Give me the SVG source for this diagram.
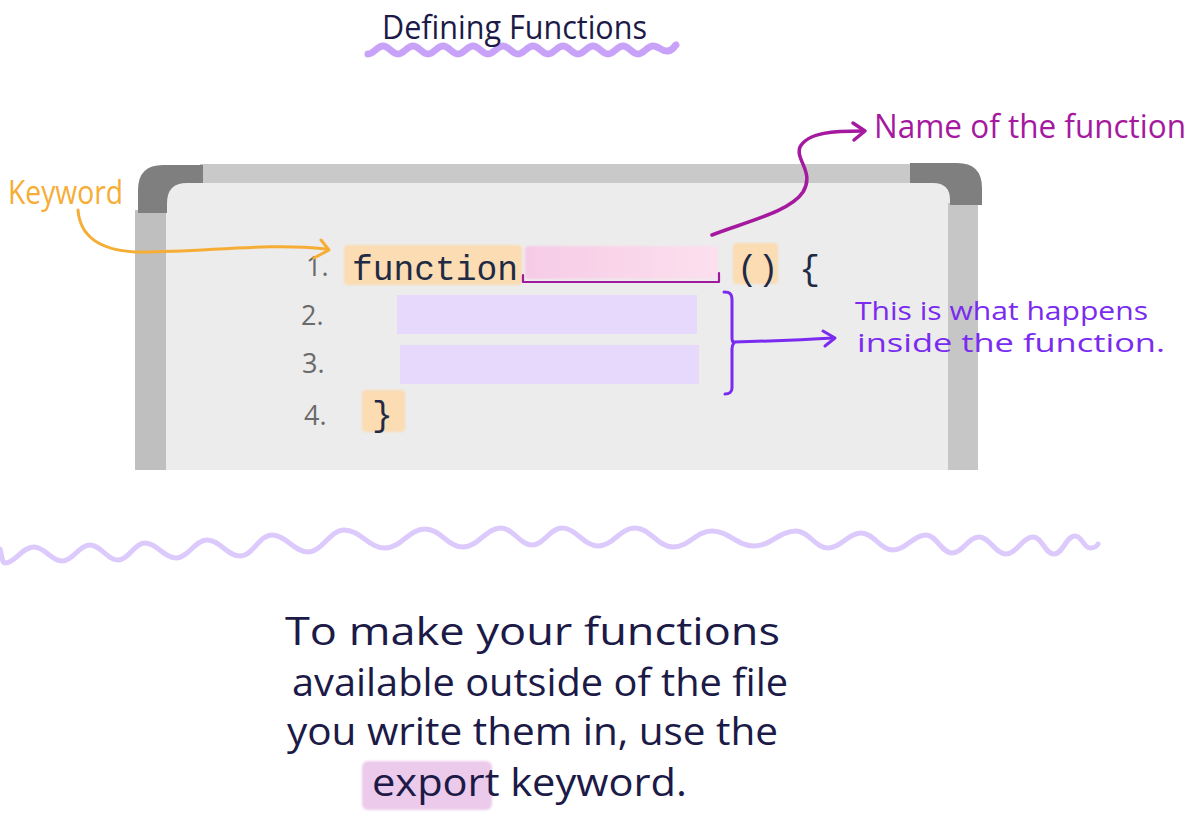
<svg xmlns="http://www.w3.org/2000/svg" width="1200" height="822" viewBox="0 0 1200 822">
  <defs>
    <style>
      .hand { font-family: "Open Sans", "Liberation Sans", sans-serif; }
      .code { font-family: "Liberation Mono", "DejaVu Sans Mono", monospace; font-size: 34.6px; fill: #1f2b45; }
      .num { font-family: "Open Sans", "Liberation Sans", sans-serif; font-size: 27px; fill: #6a6a6a; }
      .navy { fill: #1c1a47; }
      .hl-orange { fill: #fbdcb3; }
      .hl-purple { fill: #e6d9fc; }
      .conn { fill: none; stroke-linecap: round; stroke-linejoin: round; }
    </style>
    <filter id="soft" x="-5%" y="-10%" width="110%" height="120%">
      <feGaussianBlur stdDeviation="1.2"/>
    </filter>
    <linearGradient id="pinkGrad" x1="0" y1="0" x2="1" y2="0">
      <stop offset="0" stop-color="#f7cbe6"/>
      <stop offset="1" stop-color="#fbe0ee"/>
    </linearGradient>
  </defs>

  <rect x="0" y="0" width="1200" height="822" fill="#ffffff"/>

  <!-- Title -->
  <g id="title">
    <path class="conn" stroke="#c8a2f8" stroke-width="7" d="M368,54 C374,54 377,46 383,46 S392,54 398,54 S407,46 413,46 S422,54 428,54 S437,46 443,46 S452,54 458,54 S467,46 473,46 S482,54 488,54 S497,46 503,46 S512,54 518,54 S527,46 533,46 S542,54 548,54 S557,46 563,46 S572,54 578,54 S587,46 593,46 S602,54 608,54 S617,46 623,46 S632,54 638,54 S647,46 653,46 S662,52 668,51 S674,46 676,45"/>
    <text class="hand navy" x="382" y="39" font-size="32" textLength="265" lengthAdjust="spacingAndGlyphs">Defining Functions</text>
  </g>

  <!-- Whiteboard -->
  <g id="whiteboard">
    <rect x="150" y="172" width="815" height="298" fill="#ececec"/>
    <rect x="200" y="164" width="712" height="19" fill="#c9c9c9"/>
    <rect x="135" y="210" width="31" height="260" fill="#bfbfbf"/>
    <rect x="948" y="203" width="30" height="267" fill="#c6c6c6"/>
    <path d="M138,213 L138,190 Q138,165 163,165 L203,165 L203,183 L187,183 Q167,183 167,203 L167,213 Z" fill="#7f7f7f"/>
    <path d="M910,163 L957,163 Q982,163 982,188 L982,205 L950,205 L950,200 Q950,183 933,183 L910,183 Z" fill="#7f7f7f"/>
  </g>

  <!-- Code lines -->
  <g id="line-1">
    <rect class="hl-orange" x="344" y="245" width="178" height="40" rx="4" filter="url(#soft)"/>
    <rect x="525" y="246" width="193" height="33" rx="4" fill="url(#pinkGrad)" filter="url(#soft)"/>
    <rect class="hl-orange" x="733" y="243" width="45" height="41" rx="4" filter="url(#soft)"/>
    <text class="num" x="306" y="276">1.</text>
    <text class="code" x="352" y="280">function</text>
    <text class="code" x="737" y="280">() {</text>
    <path class="conn" stroke="#a0199c" stroke-width="2.2" d="M523,275 L523,282 L719,282 L719,273"/>
  </g>
  <g id="line-2">
    <text class="num" x="301" y="325">2.</text>
    <rect class="hl-purple" x="397" y="295" width="300" height="39"/>
  </g>
  <g id="line-3">
    <text class="num" x="302" y="373">3.</text>
    <rect class="hl-purple" x="400" y="345" width="299" height="39"/>
  </g>
  <g id="line-4">
    <rect class="hl-orange" x="362" y="390" width="43" height="42" rx="4" filter="url(#soft)"/>
    <text class="num" x="304" y="425">4.</text>
    <text class="code" x="372" y="426">}</text>
  </g>

  <!-- Labels -->
  <g id="keyword-label">
    <text class="hand" x="8" y="204" font-size="32" fill="#f6ad35" textLength="115" lengthAdjust="spacingAndGlyphs">Keyword</text>
  </g>
  <g id="name-label">
    <text class="hand" x="874" y="138" font-size="33" fill="#a5199f" textLength="312" lengthAdjust="spacingAndGlyphs">Name of the function</text>
  </g>
  <g id="body-label">
    <text class="hand" x="855" y="320" font-size="25" fill="#7a2bef" textLength="293" lengthAdjust="spacingAndGlyphs">This is what happens</text>
    <text class="hand" x="857" y="352" font-size="25" fill="#7a2bef" textLength="308" lengthAdjust="spacingAndGlyphs">inside the function.</text>
  </g>

  <!-- Connectors -->
  <g id="connectors">
    <path class="conn" stroke="#f6ad35" stroke-width="3" d="M78,210 C80,236 100,250 135,252 C200,253 265,242 326,249"/>
    <path class="conn" stroke="#f6ad35" stroke-width="3" d="M321,240 L329,250 L314,258"/>
    <path class="conn" stroke="#a5199f" stroke-width="3.5" d="M712,235 C745,222 790,212 803,192 C815,172 795,160 800,147 C808,132 835,131 863,131"/>
    <path class="conn" stroke="#a5199f" stroke-width="3.5" d="M853,123 L865,131 L854,140"/>
    <path class="conn" stroke="#7a2bef" stroke-width="3" d="M724,292 C730,292 732,294 732,300 L732,338 Q732,342 734,343 Q732,345 732,349 L732,388 C732,392 729,394 725,394"/>
    <path class="conn" stroke="#7a2bef" stroke-width="3" d="M734,342 C770,341 800,340 834,338"/>
    <path class="conn" stroke="#7a2bef" stroke-width="3" d="M823,331 L835,338 L825,346"/>
  </g>

  <!-- Divider wave -->
  <g id="divider">
    <path class="conn" stroke="#dccafc" stroke-width="5" d="M0,549 C2,556 2,563 5,563 C15,563 22,547 34,547 C45,547 51,561 62,561 C73,561 79,545 90,545 C101,545 107,560 118,560 C129,560 134,543 145,543 C157,543 164,558 176,558 C188,558 195,540 207,540 C220,540 227,556 240,556 C253,556 259,535 272,535 C286,535 294,552 308,552 C322,552 330,530 344,530 C360,530 369,548 385,548 C401,548 409,529 425,529 C440,529 448,547 463,547 C478,547 486,528 501,528 C513,528 520,545 532,545 C544,545 550,528 562,528 C576,528 584,546 598,546 C613,546 620,528 635,528 C650,528 658,547 673,547 C689,547 696,531 712,531 C729,531 737,546 754,546 C771,546 779,531 796,531 C809,531 815,548 828,548 C841,548 848,533 861,533 C874,533 880,550 893,550 C906,550 913,535 926,535 C936,535 942,553 952,553 C963,553 968,537 979,537 C990,537 995,554 1006,554 C1017,554 1022,537 1033,537 C1042,537 1045,554 1054,554 C1063,554 1066,536 1075,536 C1082,536 1084,548 1090,548 C1095,548 1097,546 1098,544"/>
  </g>

  <!-- Bottom text -->
  <g id="bottom-text">
    <rect x="362" y="761" width="130" height="49" rx="6" fill="#eccaeb" filter="url(#soft)"/>
    <text class="hand navy" x="285" y="645" font-size="38" textLength="495" lengthAdjust="spacingAndGlyphs">To make your functions</text>
    <text class="hand navy" x="292" y="696" font-size="38" textLength="496" lengthAdjust="spacingAndGlyphs">available outside of the file</text>
    <text class="hand navy" x="287" y="745" font-size="38" textLength="491" lengthAdjust="spacingAndGlyphs">you write them in, use the</text>
    <text class="hand navy" x="372" y="796" font-size="38" textLength="315" lengthAdjust="spacingAndGlyphs">export keyword.</text>
  </g>
</svg>
